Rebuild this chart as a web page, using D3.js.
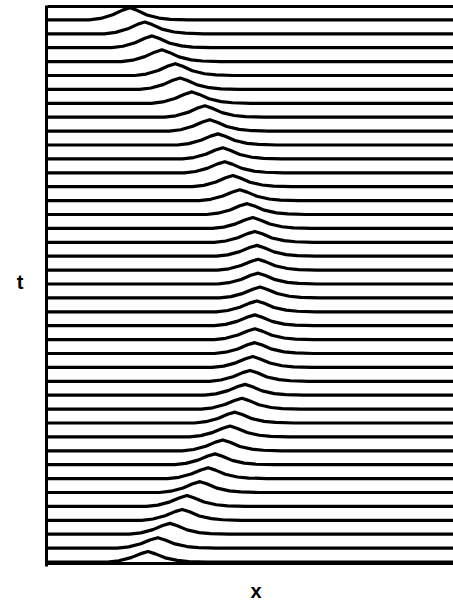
<!DOCTYPE html>
<html lang="en">
<head>
    <meta charset="UTF-8">
    <title>Soliton traces x-t</title>
    <style>
        body, html {
            margin: 0;
            padding: 0;
            width: 100%;
            height: 100%;
            overflow: hidden;
            background: #fff;
        }
    </style>
</head>
<body>
    <script src="https://d3js.org/d3.v7.min.js"></script>
    <script>
        // peak position (x units) of each trace, from t = 0 (bottom) to t = 39 (top)
        var peakX = [2.49, 2.73, 3.03, 3.33, 3.45, 3.77, 3.97, 4.14, 4.33, 4.51,
                     4.63, 4.80, 4.88, 5.00, 5.07, 5.12, 5.12, 5.12, 5.17, 5.25,
                     5.20, 5.20, 5.17, 5.12, 5.07, 4.93, 4.75, 4.58, 4.38, 4.33,
                     4.21, 4.01, 3.89, 3.57, 3.28, 3.16, 2.83, 2.59, 2.41, 2.04];
        // peak height of each trace (t units)
        var peakH = [0.75, 0.75, 0.78, 0.78, 0.78, 0.78, 0.78, 0.78, 0.78, 0.78,
                     0.78, 0.78, 0.78, 0.78, 0.78, 0.78, 0.78, 0.78, 0.78, 0.78,
                     0.78, 0.78, 0.78, 0.78, 0.78, 0.78, 0.78, 0.8, 0.8, 0.8,
                     0.8, 0.82, 0.82, 0.82, 0.82, 0.85, 0.85, 0.85, 0.85, 0.88];
        // pulse profile: offset from peak (x units) and relative height
        var profileDx = [-1.0, -0.72, -0.42, -0.18, 0, 0.18, 0.42, 0.72, 1.0, 1.45];
        var profileH  = [0, 0.12, 0.42, 0.8, 1, 0.78, 0.4, 0.15, 0.05, 0];

        var xLabel = "x";
        var tLabel = "t";

        var width = 453;
        var height = 601;

        var svg = d3.select("body")
            .append("svg")
            .attr("width", width)
            .attr("height", height);

        var x = d3.scaleLinear().domain([0, 10]).range([47, 453]);
        var y = d3.scaleLinear().domain([0, 40]).range([562, 6]);

        svg.append("clipPath")
            .attr("id", "plot")
            .append("rect")
            .attr("x", 46).attr("y", 0)
            .attr("width", width - 46).attr("height", 568);

        var line = d3.line()
            .x(function(d) { return x(d[0]); })
            .y(function(d) { return y(d[1]); });

        var traces = peakX.map(function(p, i) {
            var pts = [[0, i]];
            profileDx.forEach(function(dx, k) {
                pts.push([p + dx, i + profileH[k] * peakH[i]]);
            });
            pts.push([10, i]);
            return pts;
        });

        svg.append("g")
            .attr("clip-path", "url(#plot)")
            .selectAll("path")
            .data(traces)
            .enter()
            .append("path")
            .attr("d", line)
            .attr("fill", "none")
            .attr("stroke", "#000")
            .attr("stroke-width", 3.2)
            .attr("stroke-linejoin", "round");

        // frame: left axis, top and bottom rules, no ticks
        svg.append("g")
            .attr("transform", "translate(46,0)")
            .call(d3.axisLeft(y.copy().range([566, 5])).ticks(0).tickSizeOuter(0));
        svg.append("g")
            .attr("transform", "translate(0,6)")
            .call(d3.axisTop(x).ticks(0).tickSizeOuter(0));
        svg.append("g")
            .attr("transform", "translate(0,563)")
            .call(d3.axisBottom(x).ticks(0).tickSizeOuter(0));
        svg.selectAll(".domain")
            .attr("stroke", "#000")
            .attr("stroke-width", 3);

        svg.append("text")
            .attr("x", 20)
            .attr("y", 289)
            .attr("text-anchor", "middle")
            .attr("font-family", "Liberation Sans, Arial, sans-serif")
            .attr("font-weight", "bold")
            .attr("font-size", 20)
            .text(tLabel);

        svg.append("text")
            .attr("x", 256)
            .attr("y", 598)
            .attr("text-anchor", "middle")
            .attr("font-family", "Liberation Sans, Arial, sans-serif")
            .attr("font-weight", "bold")
            .attr("font-size", 20)
            .text(xLabel);
    </script>
</body>
</html>
